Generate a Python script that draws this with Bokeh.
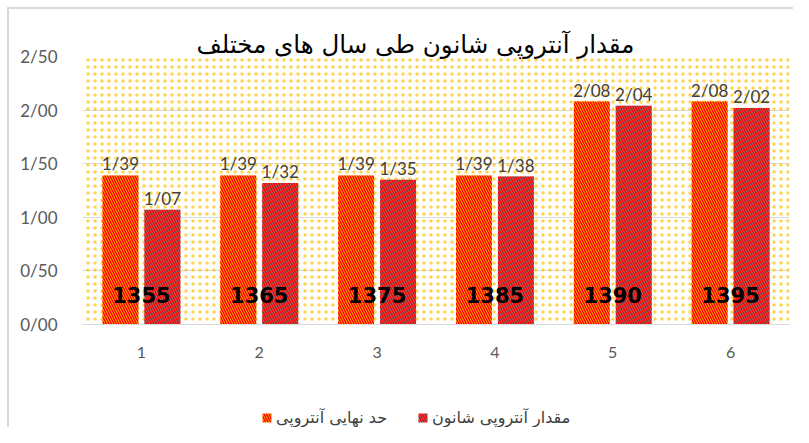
from bokeh.plotting import figure
from bokeh.models import ColumnDataSource, FactorRange, Range1d, Legend, LegendItem, BoxAnnotation
from bokeh.transform import dodge
from bokeh.core.properties import value
from bokeh.embed import file_html
from bokeh.resources import INLINE

title_text = "مقدار آنتروپی شانون طی سال های مختلف"
categories = ["1", "2", "3", "4", "5", "6"]
years = ["1355", "1365", "1375", "1385", "1390", "1395"]
entropy_limit = [1.39, 1.39, 1.39, 1.39, 2.08, 2.08]
shannon_entropy = [1.07, 1.32, 1.35, 1.38, 2.04, 2.02]
series_names = ["حد نهایی آنتروپی", "مقدار آنتروپی شانون"]
y_ticks = [0.0, 0.5, 1.0, 1.5, 2.0, 2.5]
y_tick_labels = ["0/00", "0/50", "1/00", "1/50", "2/00", "2/50"]


def fmt(v):
    return f"{v:.2f}".replace(".", "/")


source = ColumnDataSource(dict(
    cat=categories, year=years, limit=entropy_limit, shannon=shannon_entropy,
    limit_lbl=[fmt(v) for v in entropy_limit],
    shannon_lbl=[fmt(v) for v in shannon_entropy],
    base=[0.0] * len(categories),
))

W, H = 793, 427
top_px, zero_px = 56, 324
y_max = y_ticks[-1]
y_min = -y_max * (H - zero_px) / (zero_px - top_px)

p = figure(x_range=FactorRange(*categories), y_range=Range1d(y_min, y_max),
           width=W, height=H, output_backend="svg", toolbar_location=None,
           min_border_left=82, min_border_right=4, min_border_top=top_px, min_border_bottom=0)
p.outline_line_color = None
p.background_fill_color = "white"
p.border_fill_alpha = 0
p.styles = {
    "background-color": "white",
    "background-image": "linear-gradient(#D9D9D9, #D9D9D9), linear-gradient(#D9D9D9, #D9D9D9)",
    "background-size": "2px 100%, 100% 2px",
    "background-position": "7px 7px, 7px 7px",
    "background-repeat": "no-repeat",
}

bg = BoxAnnotation(bottom=0, fill_alpha=0, line_alpha=0, hatch_pattern="dot",
                   hatch_color="#FFC000", hatch_alpha=0.7,
                   hatch_scale=7, hatch_weight=1.2, level="underlay")
p.add_layout(bg)

off = 0.178
w = 0.305
hatch = dict(hatch_pattern="\\", hatch_color="#FF0000", hatch_weight=1.5, hatch_scale=5)
r1 = p.vbar(x=dodge("cat", -off, range=p.x_range), top="limit", width=w, source=source,
            fill_color="#FFC000", line_color=None, **hatch)
r2 = p.vbar(x=dodge("cat", off, range=p.x_range), top="shannon", width=w, source=source,
            fill_color="#808080", line_color=None, **hatch)

lbl = dict(source=source, y_offset=-1, text_baseline="bottom", text_align="center",
           text_font=value("Lato"), text_font_size="17px", text_color="#404040")
p.text(x=dodge("cat", -off, range=p.x_range), y="limit", text="limit_lbl", **lbl)
p.text(x=dodge("cat", off, range=p.x_range), y="shannon", text="shannon_lbl", **lbl)
p.text(x="cat", y="base", text="year", source=source, y_offset=-30, text_baseline="middle",
       text_align="center", text_font=value("DejaVu Sans"), text_font_style="bold",
       text_font_size="21px", text_color="#000000")

p.title.text = title_text
p.title.text_font = "DejaVu Sans"
p.title.text_font_size = "24.5px"
p.title.text_font_style = "normal"
p.title.text_color = "#000000"
p.title.align = "left"
p.title.offset = 114
p.title.standoff = -4

p.ygrid.grid_line_color = "#D9D9D9"
p.xgrid.grid_line_color = None
p.yaxis.ticker = y_ticks
p.yaxis.major_label_overrides = dict(zip(y_ticks, y_tick_labels))
for ax in (p.xaxis, p.yaxis):
    ax.major_tick_line_color = None
    ax.minor_tick_line_color = None
    ax.major_label_text_font = "Lato"
    ax.major_label_text_color = "#595959"
p.yaxis.major_label_text_font_size = "17px"
p.yaxis.major_label_standoff = 19
p.yaxis.axis_line_color = None
p.xaxis.fixed_location = 0
p.xaxis.major_label_text_font_size = "16px"
p.xaxis.major_label_standoff = 16
p.xaxis.axis_line_color = "#D9D9D9"

legend = Legend(items=[LegendItem(label=series_names[0], renderers=[r1]),
                       LegendItem(label=series_names[1], renderers=[r2])],
                orientation="horizontal", location=(179, 0), glyph_width=11, glyph_height=11,
                label_text_font="DejaVu Sans", label_text_font_size="16px",
                label_text_color="#404040", label_height=14, label_standoff=4,
                spacing=30, border_line_color=None,
                background_fill_alpha=0, padding=1, margin=0)
p.add_layout(legend, "center")

open("out.html", "w").write(file_html(p, INLINE))
